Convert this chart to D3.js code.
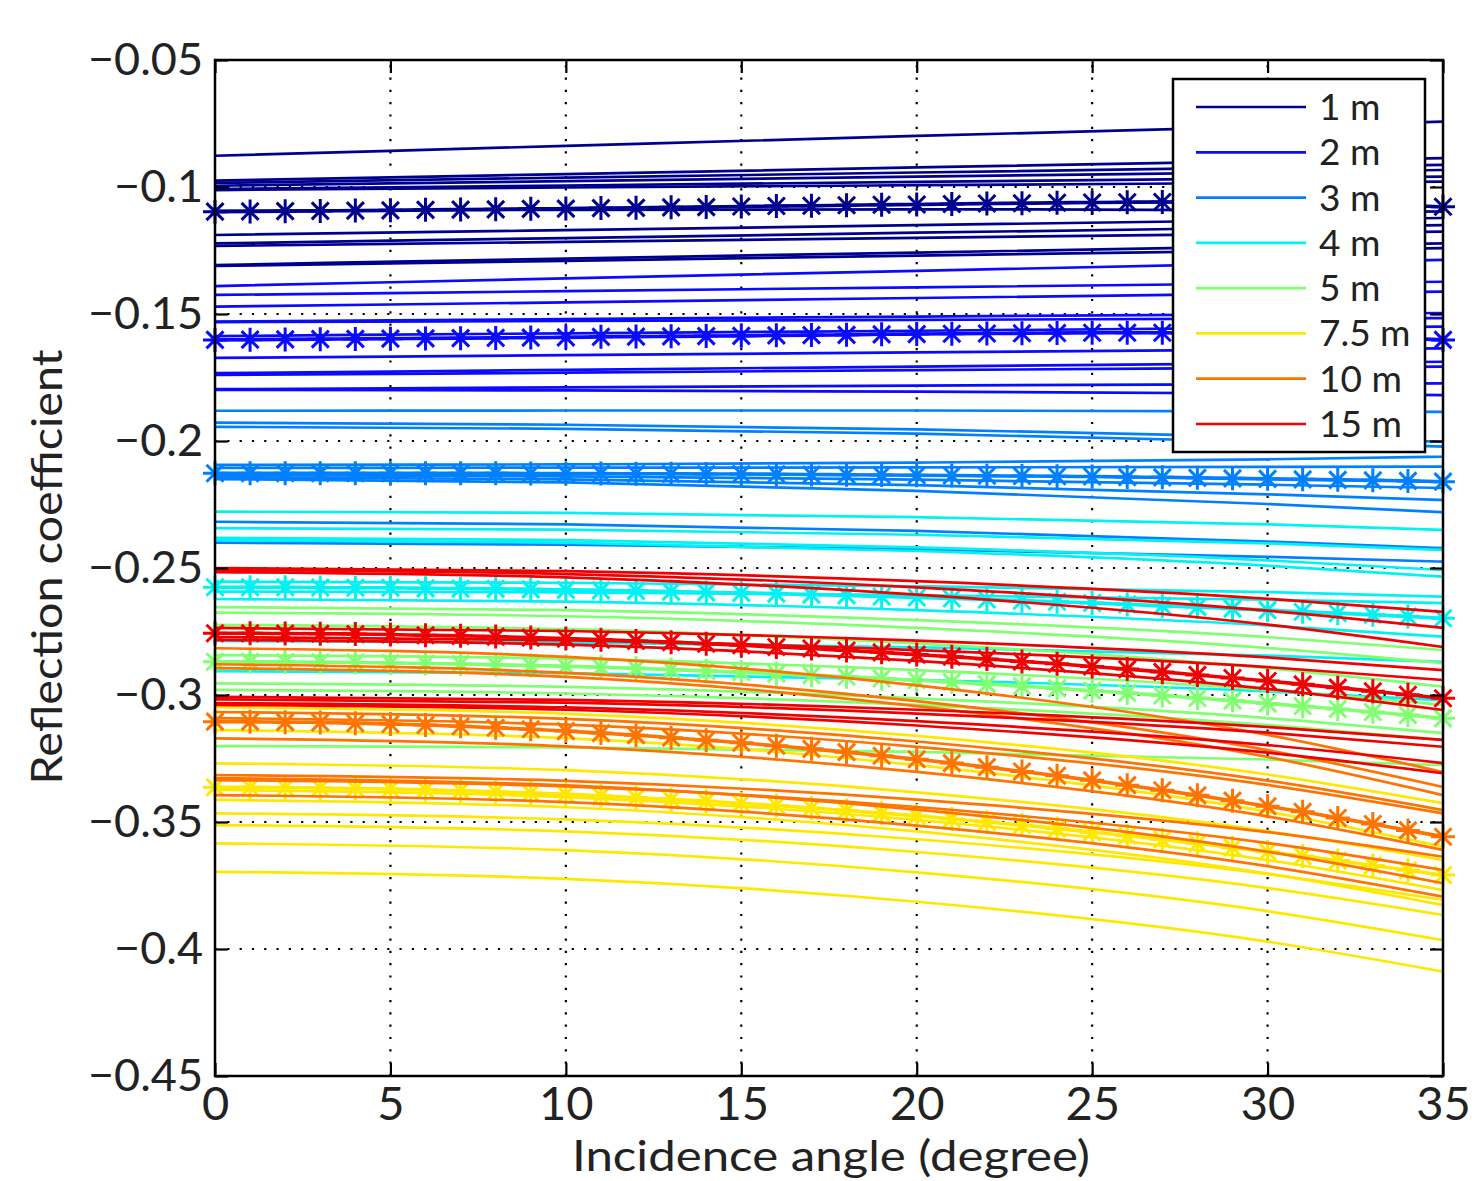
<!DOCTYPE html>
<html>
<head>
<meta charset="utf-8">
<script src="https://cdn.jsdelivr.net/npm/d3@7"></script>
<style>
html, body { margin: 0; padding: 0; background: #fff; }
svg text { font-family: Lato, "Open Sans", sans-serif; fill: #222; }
</style>
</head>
<body>
<svg id="chart" width="1472" height="1181"></svg>
<script>
"use strict";

// sampled angles (degree) for the plain curves
var angles = [0, 10, 20, 30, 35];
// every degree for the marked curves
var starAngles = d3.range(0, 36);

var depthLabels = ["1 m", "2 m", "3 m", "4 m", "5 m", "7.5 m", "10 m", "15 m"];

var xTicks = [0, 5, 10, 15, 20, 25, 30, 35];
var xTickLabels = ["0", "5", "10", "15", "20", "25", "30", "35"];
var yTicks = [-0.45, -0.4, -0.35, -0.3, -0.25, -0.2, -0.15, -0.1, -0.05];
var yTickLabels = ["\u22120.45", "\u22120.4", "\u22120.35", "\u22120.3", "\u22120.25", "\u22120.2", "\u22120.15", "\u22120.1", "\u22120.05"];

// reflection coefficient at the sampled angles, one row per curve
var lines1m = [
    [-0.0877, -0.0838, -0.0799, -0.0762, -0.0743],
    [-0.0975, -0.0949, -0.0923, -0.0898, -0.0886],
    [-0.0984, -0.0963, -0.0943, -0.0923, -0.0913],
    [-0.0995, -0.0977, -0.0959, -0.0942, -0.0933],
    [-0.1008, -0.0994, -0.0980, -0.0966, -0.0959],
    [-0.1012, -0.1002, -0.0993, -0.0984, -0.0979],
    [-0.1094, -0.1090, -0.1088, -0.1092, -0.1097],
    [-0.1189, -0.1170, -0.1150, -0.1131, -0.1122],
    [-0.1222, -0.1201, -0.1180, -0.1160, -0.1150],
    [-0.1232, -0.1216, -0.1200, -0.1184, -0.1176],
    [-0.1307, -0.1282, -0.1258, -0.1234, -0.1222],
    [-0.1311, -0.1291, -0.1270, -0.1251, -0.1241]
];
var lines2m = [
    [-0.1390, -0.1360, -0.1330, -0.1301, -0.1287],
    [-0.1425, -0.1410, -0.1395, -0.1380, -0.1373],
    [-0.1471, -0.1454, -0.1437, -0.1420, -0.1412],
    [-0.1530, -0.1520, -0.1510, -0.1501, -0.1496],
    [-0.1532, -0.1527, -0.1523, -0.1518, -0.1516],
    [-0.1587, -0.1576, -0.1566, -0.1555, -0.1550],
    [-0.1673, -0.1662, -0.1651, -0.1640, -0.1635],
    [-0.1733, -0.1720, -0.1707, -0.1694, -0.1688],
    [-0.1740, -0.1731, -0.1721, -0.1712, -0.1707],
    [-0.1796, -0.1789, -0.1782, -0.1776, -0.1773],
    [-0.1799, -0.1801, -0.1806, -0.1813, -0.1819]
];
var lines3m = [
    [-0.1881, -0.1880, -0.1880, -0.1883, -0.1885],
    [-0.1928, -0.1936, -0.1954, -0.1984, -0.2003],
    [-0.1944, -0.1952, -0.1971, -0.2003, -0.2022],
    [-0.2094, -0.2092, -0.2085, -0.2072, -0.2062],
    [-0.2106, -0.2105, -0.2104, -0.2102, -0.2101],
    [-0.2134, -0.2139, -0.2152, -0.2172, -0.2185],
    [-0.2142, -0.2151, -0.2174, -0.2210, -0.2232],
    [-0.2150, -0.2163, -0.2196, -0.2248, -0.2280],
    [-0.2318, -0.2328, -0.2354, -0.2396, -0.2422],
    [-0.2400, -0.2408, -0.2426, -0.2456, -0.2475]
];
var lines4m = [
    [-0.2278, -0.2283, -0.2300, -0.2328, -0.2350],
    [-0.2343, -0.2349, -0.2369, -0.2403, -0.2429],
    [-0.2381, -0.2390, -0.2419, -0.2470, -0.2508],
    [-0.2390, -0.2400, -0.2433, -0.2491, -0.2534],
    [-0.2554, -0.2558, -0.2572, -0.2595, -0.2613],
    [-0.2593, -0.2596, -0.2607, -0.2625, -0.2638],
    [-0.2622, -0.2632, -0.2666, -0.2726, -0.2770],
    [-0.2787, -0.2793, -0.2812, -0.2845, -0.2870],
    [-0.2906, -0.2914, -0.2940, -0.2986, -0.3020]
];
var lines5m = [
    [-0.2654, -0.2666, -0.2705, -0.2772, -0.2823],
    [-0.2676, -0.2690, -0.2736, -0.2815, -0.2875],
    [-0.2724, -0.2741, -0.2797, -0.2894, -0.2967],
    [-0.2843, -0.2857, -0.2902, -0.2980, -0.3039],
    [-0.2954, -0.2968, -0.3013, -0.3091, -0.3150],
    [-0.2980, -0.2994, -0.3039, -0.3118, -0.3177],
    [-0.3201, -0.3206, -0.3224, -0.3254, -0.3276]
];
var lines75m = [
    [-0.3048, -0.3074, -0.3161, -0.3313, -0.3426],
    [-0.3138, -0.3170, -0.3276, -0.3459, -0.3597],
    [-0.3269, -0.3296, -0.3383, -0.3536, -0.3650],
    [-0.3374, -0.3402, -0.3492, -0.3650, -0.3768],
    [-0.3413, -0.3442, -0.3537, -0.3703, -0.3827],
    [-0.3466, -0.3490, -0.3568, -0.3705, -0.3807],
    [-0.3512, -0.3537, -0.3618, -0.3760, -0.3866],
    [-0.3584, -0.3611, -0.3698, -0.3851, -0.3965],
    [-0.3696, -0.3724, -0.3814, -0.3971, -0.4089]
];
var lines10m = [
    [-0.2816, -0.2850, -0.2962, -0.3157, -0.3303],
    [-0.2879, -0.2913, -0.3024, -0.3217, -0.3362],
    [-0.2894, -0.2929, -0.3044, -0.3244, -0.3394],
    [-0.3067, -0.3094, -0.3183, -0.3337, -0.3453],
    [-0.3091, -0.3117, -0.3204, -0.3354, -0.3466],
    [-0.3171, -0.3202, -0.3303, -0.3478, -0.3610],
    [-0.3315, -0.3338, -0.3412, -0.3540, -0.3637],
    [-0.3327, -0.3356, -0.3451, -0.3617, -0.3741],
    [-0.3335, -0.3360, -0.3441, -0.3583, -0.3689],
    [-0.3394, -0.3422, -0.3514, -0.3674, -0.3794]
];
var lines15m = [
    [-0.2500, -0.2512, -0.2552, -0.2621, -0.2673],
    [-0.2508, -0.2524, -0.2576, -0.2668, -0.2736],
    [-0.2516, -0.2537, -0.2605, -0.2723, -0.2811],
    [-0.2736, -0.2748, -0.2786, -0.2852, -0.2902],
    [-0.2772, -0.2784, -0.2823, -0.2890, -0.2941],
    [-0.2783, -0.2802, -0.2866, -0.2976, -0.3059],
    [-0.3007, -0.3019, -0.3058, -0.3126, -0.3177],
    [-0.3017, -0.3030, -0.3073, -0.3148, -0.3204],
    [-0.3032, -0.3049, -0.3103, -0.3197, -0.3268],
    [-0.3039, -0.3058, -0.3120, -0.3227, -0.3308]
];

// marked curves, one value per degree
var star1m = [-0.1097, -0.1096, -0.1095, -0.1094, -0.1093, -0.1092, -0.1090, -0.1089, -0.1088, -0.1086,
    -0.1085, -0.1083, -0.1082, -0.1080, -0.1079, -0.1077, -0.1075, -0.1074, -0.1072, -0.1070,
    -0.1069, -0.1067, -0.1065, -0.1064, -0.1062, -0.1061, -0.1060, -0.1059, -0.1059, -0.1059,
    -0.1060, -0.1062, -0.1065, -0.1069, -0.1073, -0.1078];
var star2m = [-0.1602, -0.1601, -0.1600, -0.1599, -0.1598, -0.1597, -0.1596, -0.1595, -0.1594, -0.1593,
    -0.1592, -0.1590, -0.1589, -0.1588, -0.1587, -0.1586, -0.1584, -0.1583, -0.1582, -0.1580,
    -0.1579, -0.1578, -0.1577, -0.1576, -0.1575, -0.1574, -0.1574, -0.1574, -0.1575, -0.1576,
    -0.1578, -0.1581, -0.1585, -0.1590, -0.1596, -0.1602];
var star3m = [-0.2127, -0.2127, -0.2127, -0.2127, -0.2127, -0.2127, -0.2127, -0.2127, -0.2127, -0.2128,
    -0.2128, -0.2128, -0.2129, -0.2129, -0.2130, -0.2130, -0.2131, -0.2132, -0.2133, -0.2134,
    -0.2135, -0.2136, -0.2137, -0.2138, -0.2139, -0.2140, -0.2142, -0.2143, -0.2145, -0.2147,
    -0.2149, -0.2151, -0.2153, -0.2155, -0.2157, -0.2160];
var star4m = [-0.2576, -0.2576, -0.2576, -0.2577, -0.2578, -0.2578, -0.2580, -0.2581, -0.2582, -0.2584,
    -0.2586, -0.2588, -0.2590, -0.2593, -0.2596, -0.2598, -0.2601, -0.2605, -0.2608, -0.2612,
    -0.2616, -0.2620, -0.2624, -0.2629, -0.2633, -0.2638, -0.2643, -0.2649, -0.2654, -0.2660,
    -0.2666, -0.2672, -0.2678, -0.2684, -0.2691, -0.2698];
var star5m = [-0.2869, -0.2869, -0.2870, -0.2871, -0.2872, -0.2874, -0.2876, -0.2878, -0.2881, -0.2884,
    -0.2887, -0.2891, -0.2895, -0.2900, -0.2905, -0.2910, -0.2916, -0.2922, -0.2928, -0.2935,
    -0.2942, -0.2949, -0.2957, -0.2965, -0.2974, -0.2983, -0.2992, -0.3002, -0.3012, -0.3022,
    -0.3033, -0.3044, -0.3055, -0.3067, -0.3079, -0.3092];
var star75m = [-0.3363, -0.3363, -0.3364, -0.3366, -0.3368, -0.3370, -0.3373, -0.3377, -0.3381, -0.3386,
    -0.3391, -0.3397, -0.3404, -0.3411, -0.3418, -0.3427, -0.3435, -0.3445, -0.3455, -0.3465,
    -0.3476, -0.3488, -0.3500, -0.3512, -0.3526, -0.3540, -0.3554, -0.3569, -0.3584, -0.3601,
    -0.3617, -0.3634, -0.3652, -0.3671, -0.3690, -0.3709];
var star10m = [-0.3105, -0.3105, -0.3107, -0.3108, -0.3111, -0.3114, -0.3118, -0.3123, -0.3129, -0.3135,
    -0.3142, -0.3150, -0.3158, -0.3168, -0.3178, -0.3188, -0.3200, -0.3212, -0.3225, -0.3239,
    -0.3253, -0.3268, -0.3284, -0.3301, -0.3318, -0.3336, -0.3355, -0.3375, -0.3395, -0.3416,
    -0.3438, -0.3460, -0.3484, -0.3508, -0.3533, -0.3558];
var star15m = [-0.2757, -0.2757, -0.2758, -0.2759, -0.2760, -0.2762, -0.2765, -0.2767, -0.2770, -0.2774,
    -0.2778, -0.2782, -0.2787, -0.2792, -0.2798, -0.2804, -0.2811, -0.2817, -0.2825, -0.2832,
    -0.2841, -0.2849, -0.2858, -0.2868, -0.2877, -0.2888, -0.2898, -0.2909, -0.2921, -0.2933,
    -0.2945, -0.2958, -0.2971, -0.2985, -0.2999, -0.3013];

var curveSets = [lines1m, lines2m, lines3m, lines4m, lines5m, lines75m, lines10m, lines15m];
var starSets = [star1m, star2m, star3m, star4m, star5m, star75m, star10m, star15m];

// colours (jet-like)
var depthColors = ["#00008f", "#0a0aff", "#0080ff", "#00f2f2", "#80ff70", "#ffe800", "#ff7300", "#f00000"];

var svg = d3.select("#chart");

var plot = { left: 215, top: 60, right: 1443, bottom: 1076 };

var x = d3.scaleLinear().domain([0, 35]).range([plot.left, plot.right]);
var y = d3.scaleLinear().domain([-0.45, -0.05]).range([plot.bottom, plot.top]);

// dotted grid
var grid = svg.append("g").attr("class", "grid")
    .attr("stroke", "#000").attr("stroke-width", 2.2).attr("stroke-dasharray", "2.2,10.1");

grid.selectAll(".gx").data(xTicks.slice(1, -1)).join("line")
    .attr("class", "gx")
    .attr("x1", function(d) { return x(d); }).attr("x2", function(d) { return x(d); })
    .attr("y1", plot.bottom).attr("y2", plot.top);

grid.selectAll(".gy").data(yTicks.slice(1, -1)).join("line")
    .attr("class", "gy")
    .attr("y1", function(d) { return y(d); }).attr("y2", function(d) { return y(d); })
    .attr("x1", plot.left).attr("x2", plot.right);

// line generators
var sampledLine = d3.line()
    .x(function(d, i) { return x(angles[i]); })
    .y(function(d) { return y(d); })
    .curve(d3.curveMonotoneX);

var starLine = d3.line()
    .x(function(d, i) { return x(starAngles[i]); })
    .y(function(d) { return y(d); })
    .curve(d3.curveMonotoneX);

var starPath = "M0,-12V12M-12,0H12M-8.5,-8.5L8.5,8.5M-8.5,8.5L8.5,-8.5";

var dataLayer = svg.append("g").attr("class", "data");

curveSets.forEach(function(set, k) {
    var g = dataLayer.append("g").attr("class", "depth-" + k);

    g.selectAll("path.curve").data(set).join("path")
        .attr("class", "curve")
        .attr("d", sampledLine)
        .attr("fill", "none")
        .attr("stroke", depthColors[k])
        .attr("stroke-width", 2.7);

    g.append("path")
        .datum(starSets[k])
        .attr("d", starLine)
        .attr("fill", "none")
        .attr("stroke", depthColors[k])
        .attr("stroke-width", 3.6);

    g.selectAll("path.marker").data(starSets[k]).join("path")
        .attr("class", "marker")
        .attr("transform", function(d, i) { return "translate(" + x(starAngles[i]) + "," + y(d) + ")"; })
        .attr("d", starPath)
        .attr("fill", "none")
        .attr("stroke", depthColors[k])
        .attr("stroke-width", 3);
});

// axes: inward ticks on all four sides
var tickLen = 13;

var leftAxis = svg.append("g")
    .attr("transform", "translate(" + plot.left + ",0)")
    .call(d3.axisLeft(y).tickValues(yTicks).tickSize(-tickLen).tickSizeOuter(0).tickPadding(12)
        .tickFormat(function(d, i) { return yTickLabels[i]; }));

var bottomAxis = svg.append("g")
    .attr("transform", "translate(0," + plot.bottom + ")")
    .call(d3.axisBottom(x).tickValues(xTicks).tickSize(-tickLen).tickSizeOuter(0).tickPadding(11)
        .tickFormat(function(d, i) { return xTickLabels[i]; }));

svg.append("g")
    .attr("transform", "translate(" + plot.right + ",0)")
    .call(d3.axisRight(y).tickValues(yTicks).tickSize(-tickLen).tickSizeOuter(0).tickFormat(""));

svg.append("g")
    .attr("transform", "translate(0," + plot.top + ")")
    .call(d3.axisTop(x).tickValues(xTicks).tickSize(-tickLen).tickSizeOuter(0).tickFormat(""));

svg.selectAll(".domain").remove();
svg.selectAll(".tick line").attr("stroke", "#000").attr("stroke-width", 2.2);

leftAxis.selectAll("text")
    .attr("font-size", 45)
    .attr("font-family", "Lato")
    .attr("fill", "#222");

bottomAxis.selectAll("text")
    .attr("font-size", 47)
    .attr("font-family", "Lato")
    .attr("fill", "#222");

// frame
svg.append("rect")
    .attr("x", plot.left).attr("y", plot.top)
    .attr("width", plot.right - plot.left).attr("height", plot.bottom - plot.top)
    .attr("fill", "none").attr("stroke", "#000").attr("stroke-width", 2.5);

// axis titles
svg.append("text")
    .attr("x", (plot.left + plot.right) / 2 + 2)
    .attr("y", 1171)
    .attr("text-anchor", "middle")
    .attr("font-size", 42)
    .attr("textLength", 518).attr("lengthAdjust", "spacingAndGlyphs")
    .text("Incidence angle (degree)");

svg.append("text")
    .attr("transform", "translate(62," + 567 + ") rotate(-90)")
    .attr("text-anchor", "middle")
    .attr("font-size", 42)
    .attr("textLength", 435).attr("lengthAdjust", "spacingAndGlyphs")
    .text("Reflection coefficient");

// legend
var legend = svg.append("g").attr("class", "legend");

legend.append("rect")
    .attr("x", 1173).attr("y", 79)
    .attr("width", 252).attr("height", 373)
    .attr("fill", "#fff").attr("stroke", "#000").attr("stroke-width", 2.5);

var legendRow = d3.scaleLinear().domain([0, 7]).range([107, 424]);

var items = legend.selectAll("g.item").data(depthLabels).join("g")
    .attr("class", "item")
    .attr("transform", function(d, i) { return "translate(0," + legendRow(i) + ")"; });

items.append("line")
    .attr("x1", 1196).attr("x2", 1306)
    .attr("stroke", function(d, i) { return depthColors[i]; })
    .attr("stroke-width", 2.7);

items.append("text")
    .attr("x", 1319)
    .attr("y", 13)
    .attr("font-size", 37)
    .text(function(d) { return d; });
</script>
</body>
</html>
